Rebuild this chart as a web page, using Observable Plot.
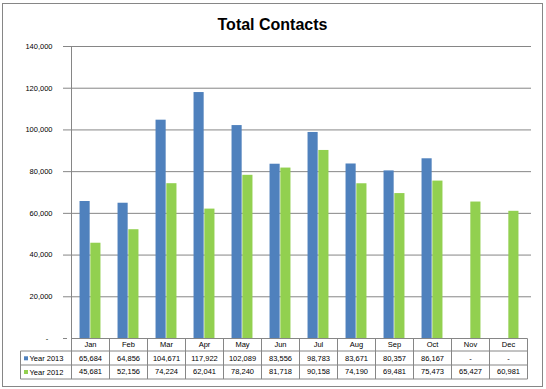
<!DOCTYPE html>
<html><head><meta charset="utf-8">
<script src="https://cdn.jsdelivr.net/npm/d3@7"></script>
<script src="https://cdn.jsdelivr.net/npm/@observablehq/plot@0.6"></script>
<style>
html,body{margin:0;padding:0;background:#fff;}
#chart svg{display:block;}
</style></head><body><div id="chart"></div>
<script>
// ---- data ----
const title = "Total Contacts";
const months = ["Jan","Feb","Mar","Apr","May","Jun","Jul","Aug","Sep","Oct","Nov","Dec"];
const seriesNames = ["Year 2013","Year 2012"];
const year2013 = [65684,64856,104671,117922,102089,83556,98783,83671,80357,86167,null,null];
const year2012 = [45681,52156,74224,62041,78240,81718,90158,74190,69481,75473,65427,60981];
const yTicks = [0,20000,40000,60000,80000,100000,120000,140000];

// ---- style ----
const colors = {"Year 2013":"#4F81BD","Year 2012":"#92D050"};
const GRID = "#868686";
const FONT = "'Liberation Sans', Arial, sans-serif";
const W = 546, H = 389, ML = 67, MR = 15, MT = 46, MB = 51;
const bw = (W - ML - MR) / months.length;
const barW = 10.8, gap = (bw - 2 * barW) / 2;
const rowLines = [12.5, 26.5, 40.5];       // table row boundaries below the zero line
const rowCenters = [6.2, 19.8, 33.5];       // text centers (header, 2013, 2012)
const fmt = d3.format(",");
const cell = v => v == null ? "-" : fmt(v);

const data = months.flatMap((m, i) => [
  {month: m, series: seriesNames[0], value: year2013[i]},
  {month: m, series: seriesNames[1], value: year2012[i]}
]);
const s2013 = data.filter(d => d.series === seriesNames[0]);
const s2012 = data.filter(d => d.series === seriesNames[1]);

function decor(index, scales, values, dims) {
  const x = scales.x, y = scales.y;
  const y0 = Math.round(y(0)) + 0.5;
  const xl = Math.round(x(months[0])) + 0.5;
  const xr = Math.round(x(months[months.length - 1]) + x.bandwidth()) + 0.5;
  const xLeg = 20.5;
  const g = d3.create("svg:g").attr("fill", "none").attr("stroke", GRID);
  // outer chart border
  g.append("rect").attr("x", 2.5).attr("y", 3.5).attr("width", 540).attr("height", 383);
  // left axis line running through the table
  g.append("line").attr("x1", xl).attr("x2", xl)
    .attr("y1", Math.round(y(yTicks[yTicks.length - 1])) + 0.5).attr("y2", y0 + rowLines[2]);
  // zero line / table top
  g.append("line").attr("x1", xl).attr("x2", xr).attr("y1", y0).attr("y2", y0);
  // table row lines
  for (const r of rowLines)
    g.append("line").attr("x1", xLeg).attr("x2", xr).attr("y1", y0 + r).attr("y2", y0 + r);
  // column lines
  for (const m of months) {
    const xx = Math.round(x(m) + x.bandwidth()) + 0.5;
    g.append("line").attr("x1", xx).attr("x2", xx).attr("y1", y0).attr("y2", y0 + rowLines[2]);
  }
  g.append("line").attr("x1", xLeg).attr("x2", xLeg).attr("y1", y0 + rowLines[0]).attr("y2", y0 + rowLines[2]);
  // legend keys + labels
  seriesNames.forEach((s, i) => {
    const cy = y0 + rowCenters[i + 1];
    g.append("rect").attr("x", 24).attr("y", cy - 2).attr("width", 4).attr("height", 4)
      .attr("fill", colors[s]).attr("stroke", "none");
    g.append("text").attr("x", 29.5).attr("y", cy).attr("dy", "0.35em")
      .attr("text-anchor", "start")
      .attr("fill", "#000").attr("stroke", "none")
      .attr("font-family", FONT).attr("font-size", 7.5).text(s);
  });
  // title
  g.append("text").attr("x", W / 2 - 0.5).attr("y", 29.5).attr("text-anchor", "middle")
    .attr("fill", "#000").attr("stroke", "none").attr("font-weight", "bold")
    .attr("font-family", FONT).attr("font-size", 16).text(title);
  return g.node();
}

const chart = Plot.plot({
  width: W, height: H,
  marginLeft: ML, marginRight: MR, marginTop: MT, marginBottom: MB,
  style: {fontFamily: FONT, fontSize: "7.5px", color: "#000", background: "#fff"},
  x: {domain: months, padding: 0, axis: null},
  y: {domain: [0, 140000], axis: null},
  marks: [
    Plot.gridY(yTicks.filter(d => d > 0), {stroke: GRID, strokeOpacity: 1}),
    Plot.axisY(yTicks, {tickFormat: d => d === 0 ? "-\u00a0\u00a0" : fmt(d), tickSize: 4, tickPadding: 11,
      stroke: GRID, fill: "#000", fontSize: 7.5, label: null}),
    Plot.barY(s2013.filter(d => d.value != null), {x: "month", y: "value", fill: colors[seriesNames[0]],
      insetLeft: gap, insetRight: gap + barW}),
    Plot.barY(s2012, {x: "month", y: "value", fill: colors[seriesNames[1]],
      insetLeft: gap + barW, insetRight: gap}),
    decor,
    Plot.text(months, {x: d => d, y: () => 0, text: d => d, dy: rowCenters[0], lineAnchor: "middle", fill: "#000"}),
    Plot.text(s2013, {x: "month", y: () => 0, text: d => cell(d.value), dy: rowCenters[1], lineAnchor: "middle", fill: "#000"}),
    Plot.text(s2012, {x: "month", y: () => 0, text: d => cell(d.value), dy: rowCenters[2], lineAnchor: "middle", fill: "#000"})
  ]
});
document.getElementById("chart").appendChild(chart);
</script>
</body></html>
